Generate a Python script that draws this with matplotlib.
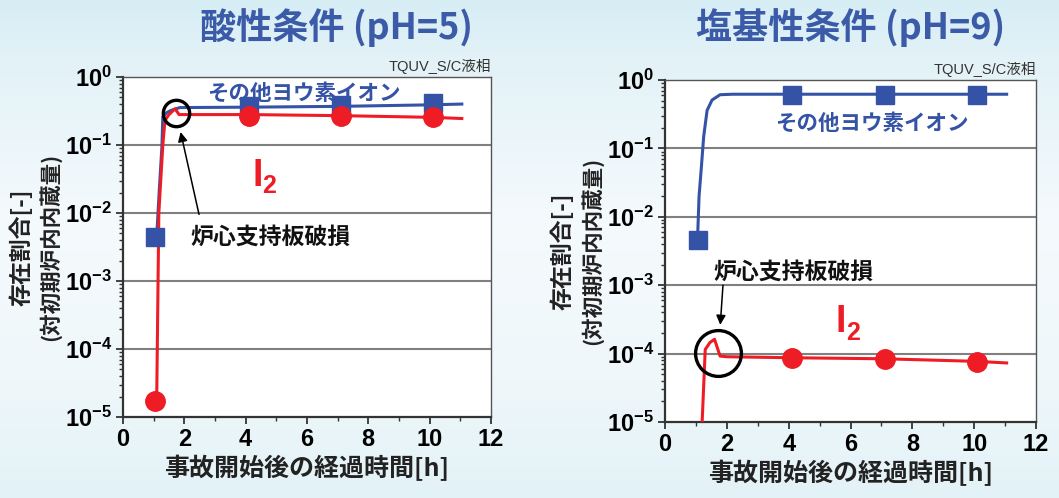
import numpy as np
import matplotlib
matplotlib.use("Agg")
import matplotlib.pyplot as plt
from matplotlib.ticker import FixedLocator, FuncFormatter, LogLocator, NullFormatter

plt.rcParams["font.family"] = ["Liberation Sans", "Noto Sans CJK JP"]
plt.rcParams["mathtext.fontset"] = "custom"
plt.rcParams["mathtext.rm"] = "Liberation Sans:bold"
plt.rcParams["mathtext.bf"] = "Liberation Sans:bold"
plt.rcParams["axes.unicode_minus"] = True

# ---------------- data ----------------
titles = ["酸性条件 (pH=5)", "塩基性条件 (pH=9)"]
xlabel = "事故開始後の経過時間[h]"
ylabel1 = "存在割合[-]"
ylabel2 = "(対初期炉内内蔵量)"
source_note = "TQUV_S/C液相"
ion_label = "その他ヨウ素イオン"
event_label = "炉心支持板破損"

# acidic case (pH=5)
acid_ion_t = [1.1, 1.18, 1.27, 1.3, 1.43, 1.55, 1.63, 1.86, 4.1, 7.1, 10.1, 11.05]
acid_ion_y = [4.5e-3, 0.02, 0.094, 0.26, 0.30, 0.32, 0.33, 0.355, 0.36, 0.37, 0.39, 0.40]
acid_ion_mt = [1.05, 4.1, 7.1, 10.1]
acid_ion_my = [4.5e-3, 0.37, 0.39, 0.42]
acid_i2_t = [1.1, 1.17, 1.3, 1.37, 1.5, 1.7, 1.83, 2.0, 4.1, 7.1, 10.1, 11.05]
acid_i2_y = [1.7e-5, 1e-2, 0.1, 0.23, 0.28, 0.34, 0.28, 0.28, 0.28, 0.27, 0.255, 0.245]
acid_i2_mt = [1.05, 4.1, 7.1, 10.1]
acid_i2_my = [1.7e-5, 0.27, 0.27, 0.26]

# basic case (pH=9)
base_ion_t = [1.05, 1.1, 1.17, 1.25, 1.36, 1.52, 1.78, 2.2, 4.1, 7.1, 10.1, 11.05]
base_ion_y = [4.6e-3, 0.02, 0.05, 0.15, 0.36, 0.51, 0.61, 0.62, 0.62, 0.62, 0.62, 0.62]
base_ion_mt = [1.05, 4.1, 7.1, 10.1]
base_ion_my = [4.6e-3, 0.61, 0.61, 0.61]
base_i2_t = [1.15, 1.3, 1.45, 1.6, 1.78, 2.0, 4.1, 7.1, 10.1, 11.05]
base_i2_y = [3e-6, 1.15e-4, 1.45e-4, 1.62e-4, 9.2e-5, 9.0e-5, 8.7e-5, 8.4e-5, 7.7e-5, 7.3e-5]
base_i2_mt = [4.1, 7.1, 10.1]
base_i2_my = [8.6e-5, 8.3e-5, 7.5e-5]

# ---------------- styling ----------------
BLUE = "#3553a6"
RED = "#ee1c25"
TITLE_BLUE = "#3b5aa8"

fig = plt.figure(figsize=(10.59, 4.98), dpi=100)

# soft vertical background gradient
bg = fig.add_axes([0, 0, 1, 1], zorder=-10)
grad_pos = np.array([0.0, 0.12, 0.45, 0.75, 1.0])
grad_col = np.array([
    [0.84, 0.93, 0.96],
    [0.89, 0.95, 0.97],
    [0.96, 0.98, 0.99],
    [0.94, 0.97, 0.98],
    [0.89, 0.95, 0.97],
])
yy = np.linspace(0, 1, 300)
img = np.stack([np.interp(yy, grad_pos, grad_col[:, k]) for k in range(3)], axis=-1)
img = np.repeat(img[:, None, :], 4, axis=1)
bg.imshow(img, aspect="auto", extent=[0, 1, 1, 0])
bg.set_axis_off()

ax1 = fig.add_axes([0.1161, 0.1627, 0.3475, 0.6827])
ax2 = fig.add_axes([0.6280, 0.1526, 0.3503, 0.6867])


def decade_fmt(v, pos):
    e = int(round(np.log10(v)))
    return r"$\mathrm{10^{%d}}$" % e


def style_axes(ax):
    ax.set_facecolor("white")
    ax.set_yscale("log")
    ax.set_xlim(0, 12)
    ax.set_ylim(1e-5, 1)
    ax.xaxis.set_major_locator(FixedLocator([0, 2, 4, 6, 8, 10, 12]))
    ax.xaxis.set_minor_locator(FixedLocator([1, 3, 5, 7, 9, 11]))
    ax.yaxis.set_major_locator(FixedLocator([1e-5, 1e-4, 1e-3, 1e-2, 1e-1, 1]))
    ax.yaxis.set_minor_locator(LogLocator(base=10, subs=np.arange(2, 10)))
    ax.yaxis.set_major_formatter(FuncFormatter(decade_fmt))
    ax.yaxis.set_minor_formatter(NullFormatter())
    ax.tick_params(axis="both", which="major", direction="out", length=5,
                   width=1.3, color="#333333", pad=3)
    ax.tick_params(axis="x", which="major", labelsize=17)
    ax.tick_params(axis="y", which="major", labelsize=17)
    ax.tick_params(axis="both", which="minor", direction="out", length=3,
                   width=1.0, color="#333333")
    for lab in ax.get_xticklabels():
        lab.set_fontweight("bold")
    for e in [1e-4, 1e-3, 1e-2, 1e-1]:
        ax.axhline(e, color="#808080", lw=1.5, zorder=1)
    for s in ["left", "bottom"]:
        ax.spines[s].set_color("#333333")
        ax.spines[s].set_linewidth(1.6)
    for s in ["top", "right"]:
        ax.spines[s].set_color("#555555")
        ax.spines[s].set_linewidth(1.0)
    ax.set_xlabel(xlabel, fontsize=18, fontweight="bold", color="#222222",
                  family=["Noto Sans CJK JP"], labelpad=3)
    ax.text(1.0, 1.008, source_note, transform=ax.transAxes, ha="right",
            va="bottom", fontsize=10.5, color="#333333",
            family=["Liberation Sans", "Noto Sans CJK JP"])
    ax.text(-0.275, 0.5, ylabel1, transform=ax.transAxes, rotation=90,
            ha="center", va="center", fontsize=16.5, fontweight="bold",
            color="#222222", family=["Noto Sans CJK JP"])
    ax.text(-0.198, 0.5, ylabel2, transform=ax.transAxes, rotation=90,
            ha="center", va="center", fontsize=15.5, fontweight="bold",
            color="#222222", family=["Noto Sans CJK JP"])


style_axes(ax1)
style_axes(ax2)

NARROW = ["Liberation Sans Narrow", "Liberation Sans"]

# acidic panel
ax1.plot(acid_ion_t, acid_ion_y, color=BLUE, lw=2.2, zorder=3)
ax1.plot(acid_ion_mt, acid_ion_my, ls="none", marker="s", ms=12.5,
         color=BLUE, zorder=4)
ax1.plot(acid_i2_t, acid_i2_y, color=RED, lw=2.2, zorder=3)
ax1.plot(acid_i2_mt, acid_i2_my, ls="none", marker="o", ms=14,
         color=RED, zorder=5)
ax1.plot([1.73], [0.295], ls="none", marker="o", ms=19, mfc="none",
         mec="black", mew=2.4, zorder=6)
ax1.annotate("", xy=(1.86, 0.17), xytext=(2.5, 8.7e-3),
             arrowprops=dict(arrowstyle="-|>", color="black", lw=1.1,
                             mutation_scale=14), zorder=6)
ax1.text(2.2, 4.4e-3, event_label, fontsize=16.5, fontweight="bold",
         ha="left", va="center", color="#111111", family=["Noto Sans CJK JP"])
ax1.text(2.75, 0.58, ion_label, fontsize=15.5, fontweight="bold",
         ha="left", va="center", color=BLUE, family=["Noto Sans CJK JP"])
ax1.text(4.22, 0.035, "I", fontsize=27, fontweight="bold", color=RED,
         ha="left", va="center", family=NARROW)
ax1.text(4.55, 0.025, "2", fontsize=18, fontweight="bold", color=RED,
         ha="left", va="center", family=NARROW)

# basic panel
ax2.plot(base_ion_t, base_ion_y, color=BLUE, lw=2.2, zorder=3)
ax2.plot(base_ion_mt, base_ion_my, ls="none", marker="s", ms=12.5,
         color=BLUE, zorder=4)
ax2.plot(base_i2_t, base_i2_y, color=RED, lw=2.2, zorder=3)
ax2.plot(base_i2_mt, base_i2_my, ls="none", marker="o", ms=14,
         color=RED, zorder=5)
ax2.plot([1.72], [1.03e-4], ls="none", marker="o", ms=33, mfc="none",
         mec="black", mew=2.4, zorder=6)
ax2.annotate("", xy=(1.78, 2.4e-4), xytext=(1.88, 1.1e-3),
             arrowprops=dict(arrowstyle="-|>", color="black", lw=1.1,
                             mutation_scale=14), zorder=6)
ax2.text(1.55, 1.55e-3, event_label, fontsize=16.5, fontweight="bold",
         ha="left", va="center", color="#111111", family=["Noto Sans CJK JP"])
ax2.text(3.55, 0.235, ion_label, fontsize=15.5, fontweight="bold",
         ha="left", va="center", color=BLUE, family=["Noto Sans CJK JP"])
ax2.text(5.52, 2.9e-4, "I", fontsize=27, fontweight="bold", color=RED,
         ha="left", va="center", family=NARROW)
ax2.text(5.86, 2.0e-4, "2", fontsize=18, fontweight="bold", color=RED,
         ha="left", va="center", family=NARROW)

# panel titles
fig.text(337 / 1059, 1 - 28 / 498, titles[0], ha="center", va="center",
         fontsize=26, fontweight="bold", color=TITLE_BLUE,
         family=["Noto Sans CJK JP"])
fig.text(851 / 1059, 1 - 28 / 498, titles[1], ha="center", va="center",
         fontsize=26, fontweight="bold", color=TITLE_BLUE,
         family=["Noto Sans CJK JP"])

fig.savefig("out.png", dpi=100)
